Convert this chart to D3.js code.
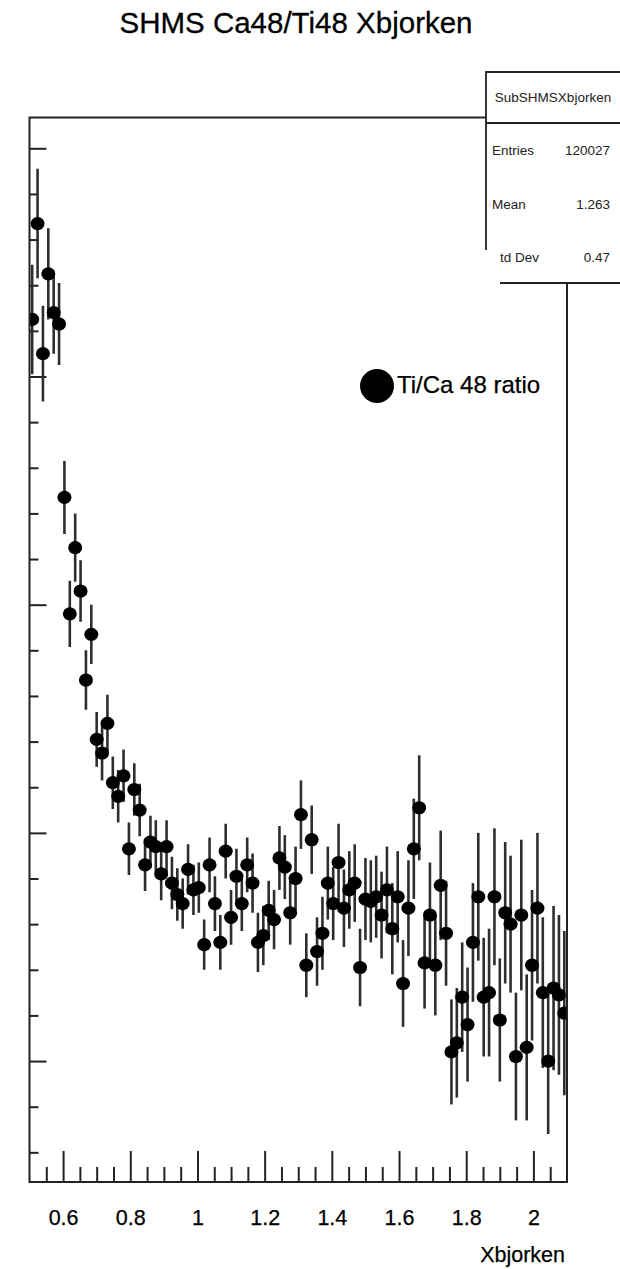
<!DOCTYPE html>
<html>
<head>
<meta charset="utf-8">
<script src="https://cdn.jsdelivr.net/npm/d3@7"></script>
<style>
  body { margin: 0; background: #fff; }
  svg { display: block; font-family: "Liberation Sans", Arial, Helvetica, sans-serif; }
</style>
</head>
<body>
<script>
// Ti/Ca 48 ratio per Xbjorken bin (100 bins, 0.5 .. 2.1), y in arbitrary axis units
const xLo = 0.5, xHi = 2.1, nBins = 100
const ratio = [
  4.25, 4.67, 4.10, 4.45, 4.28, 4.23, 3.47, 2.96, 3.25, 3.06,
  2.67, 2.87, 2.41, 2.35, 2.48, 2.22, 2.16, 2.25, 1.93, 2.19,
  2.10, 1.86, 1.96, 1.94, 1.82, 1.94, 1.78, 1.73, 1.69, 1.84,
  1.75, 1.76, 1.51, 1.86, 1.69, 1.52, 1.92, 1.63, 1.81, 1.69,
  1.86, 1.78, 1.52, 1.55, 1.66, 1.62, 1.89, 1.85, 1.65, 1.80,
  2.08, 1.42, 1.97, 1.48, 1.56, 1.78, 1.69, 1.87, 1.67, 1.75,
  1.78, 1.41, 1.71, 1.70, 1.72, 1.64, 1.75, 1.58, 1.72, 1.34,
  1.67, 1.93, 2.11, 1.43, 1.64, 1.42, 1.77, 1.56, 1.04, 1.08,
  1.28, 1.16, 1.52, 1.72, 1.28, 1.30, 1.72, 1.18, 1.65, 1.60,
  1.02, 1.64, 1.06, 1.42, 1.67, 1.30, 1.00, 1.32, 1.29, 1.21
]
const ratioErr = [
  0.24, 0.24, 0.21, 0.20, 0.18, 0.18, 0.16, 0.145, 0.15, 0.135,
  0.13, 0.13, 0.12, 0.12, 0.125, 0.115, 0.115, 0.115, 0.115, 0.115,
  0.115, 0.115, 0.115, 0.115, 0.115, 0.115, 0.115, 0.115, 0.11, 0.11,
  0.11, 0.11, 0.11, 0.12, 0.12, 0.12, 0.12, 0.12, 0.12, 0.12,
  0.12, 0.13, 0.13, 0.13, 0.13, 0.13, 0.14, 0.14, 0.14, 0.14,
  0.15, 0.14, 0.15, 0.15, 0.16, 0.16, 0.16, 0.17, 0.17, 0.17,
  0.17, 0.17, 0.18, 0.18, 0.18, 0.19, 0.19, 0.20, 0.20, 0.19,
  0.21, 0.22, 0.23, 0.20, 0.23, 0.22, 0.24, 0.23, 0.23, 0.24,
  0.24, 0.25, 0.26, 0.28, 0.26, 0.28, 0.30, 0.27, 0.31, 0.30,
  0.28, 0.33, 0.32, 0.33, 0.33, 0.33, 0.32, 0.36, 0.35, 0.36
]
const xMajor = [0.6, 0.8, 1.0, 1.2, 1.4, 1.6, 1.8, 2.0]
const xMinor = d3.range(0.55, 2.1, 0.05).filter(v => !xMajor.some(m => Math.abs(m - v) < 1e-6))
const yMajor = [1, 2, 3, 4, 5]
const yMinor = d3.range(0.6, 5.1, 0.2).filter(v => !yMajor.some(m => Math.abs(m - v) < 1e-6))
const stats = [["Entries", "120027"], ["Mean", "1.263"], ["td Dev", "0.47"]]

const width = 620, height = 1269
const frame = { left: 29.5, right: 567, top: 117.5, bottom: 1182 }

const x = d3.scaleLinear().domain([xLo, xHi]).range([frame.left, frame.right])
const y = d3.scaleLinear().domain([0.47, 5.135]).range([frame.bottom, frame.top])

const binW = (xHi - xLo) / nBins
const points = ratio.map((v, i) => ({ x: xLo + binW * (i + 0.5), v: v, e: ratioErr[i] }))

const svg = d3.select("body").append("svg")
    .attr("width", width)
    .attr("height", height)

svg.append("rect").attr("width", width).attr("height", height).attr("fill", "#fff")

// title
svg.append("text")
    .attr("x", 296).attr("y", 33)
    .attr("text-anchor", "middle")
    .attr("font-size", 29.5)
    .attr("fill", "#000")
    .attr("stroke", "#000").attr("stroke-width", 0.3)
    .text("SHMS Ca48/Ti48 Xbjorken")

// axes (ticks inward, like ROOT)
const gx = svg.append("g").attr("transform", `translate(0,${frame.bottom})`)
gx.call(d3.axisBottom(x).tickValues(xMajor).tickSize(-31).tickPadding(28).tickFormat(d3.format("~g")))
gx.append("g").call(d3.axisBottom(x).tickValues(xMinor).tickSize(-15).tickFormat(""))
gx.selectAll(".domain").remove()
gx.selectAll("line").attr("stroke", "#222").attr("stroke-width", 2)
gx.selectAll("text").attr("font-size", 21.5).attr("fill", "#000")
    .attr("stroke", "#000").attr("stroke-width", 0.25)
    .attr("font-family", "Liberation Sans, Arial, sans-serif")

const gy = svg.append("g").attr("transform", `translate(${frame.left},0)`)
gy.call(d3.axisLeft(y).tickValues(yMajor).tickSize(-17).tickFormat(""))
gy.append("g").call(d3.axisLeft(y).tickValues(yMinor).tickSize(-9).tickFormat(""))
gy.selectAll(".domain").remove()
gy.selectAll("line").attr("stroke", "#222").attr("stroke-width", 2)

svg.append("text")
    .attr("x", 565).attr("y", 1262)
    .attr("text-anchor", "end")
    .attr("font-size", 21.5)
    .attr("fill", "#000")
    .attr("stroke", "#000").attr("stroke-width", 0.25)
    .text("Xbjorken")

// data
svg.append("clipPath").attr("id", "plotclip")
    .append("rect")
    .attr("x", frame.left).attr("y", frame.top)
    .attr("width", frame.right - frame.left).attr("height", frame.bottom - frame.top)

const gData = svg.append("g").attr("clip-path", "url(#plotclip)")

gData.selectAll("line.err")
    .data(points)
    .join("line")
    .attr("class", "err")
    .attr("x1", d => x(d.x)).attr("x2", d => x(d.x))
    .attr("y1", d => y(d.v - d.e)).attr("y2", d => y(d.v + d.e))
    .attr("stroke", "#2e2e2e")
    .attr("stroke-width", 2.6)

gData.selectAll("ellipse")
    .data(points)
    .join("ellipse")
    .attr("cx", d => x(d.x))
    .attr("cy", d => y(d.v))
    .attr("rx", 7)
    .attr("ry", 6.6)
    .attr("fill", "#000")

// frame
svg.append("rect")
    .attr("x", frame.left).attr("y", frame.top)
    .attr("width", frame.right - frame.left).attr("height", frame.bottom - frame.top)
    .attr("fill", "none")
    .attr("stroke", "#222")
    .attr("stroke-width", 2)

// legend
svg.append("circle").attr("cx", 377).attr("cy", 386).attr("r", 17).attr("fill", "#000")
svg.append("text")
    .attr("x", 397).attr("y", 393)
    .attr("font-size", 24)
    .attr("fill", "#000")
    .attr("stroke", "#000").attr("stroke-width", 0.25)
    .text("Ti/Ca 48 ratio")

// stats box
const box = { x0: 486, x1: 622, y0: 72, sep: 123, y1: 283 }
const gs = svg.append("g")
gs.append("rect")
    .attr("x", box.x0).attr("y", box.y0)
    .attr("width", box.x1 - box.x0).attr("height", box.y1 - box.y0)
    .attr("fill", "#fff")
gs.append("path")
    .attr("d", `M${box.x0},250 V${box.y0} H${box.x1} M${box.x0},${box.sep} H${box.x1} M500,${box.y1} H${box.x1}`)
    .attr("fill", "none")
    .attr("stroke", "#222")
    .attr("stroke-width", 1.8)
gs.append("text")
    .attr("x", 553).attr("y", 102)
    .attr("text-anchor", "middle")
    .attr("font-size", 13.5)
    .attr("fill", "#222")
    .text("SubSHMSXbjorken")
stats.forEach(([k, v], i) => {
    const by = 155 + i * 53.5
    gs.append("text").attr("x", i === 2 ? 500 : 492).attr("y", by)
        .attr("font-size", 13.5).attr("fill", "#222").text(k)
    gs.append("text").attr("x", 610).attr("y", by)
        .attr("text-anchor", "end")
        .attr("font-size", 13.5).attr("fill", "#222").text(v)
})
</script>
</body>
</html>
